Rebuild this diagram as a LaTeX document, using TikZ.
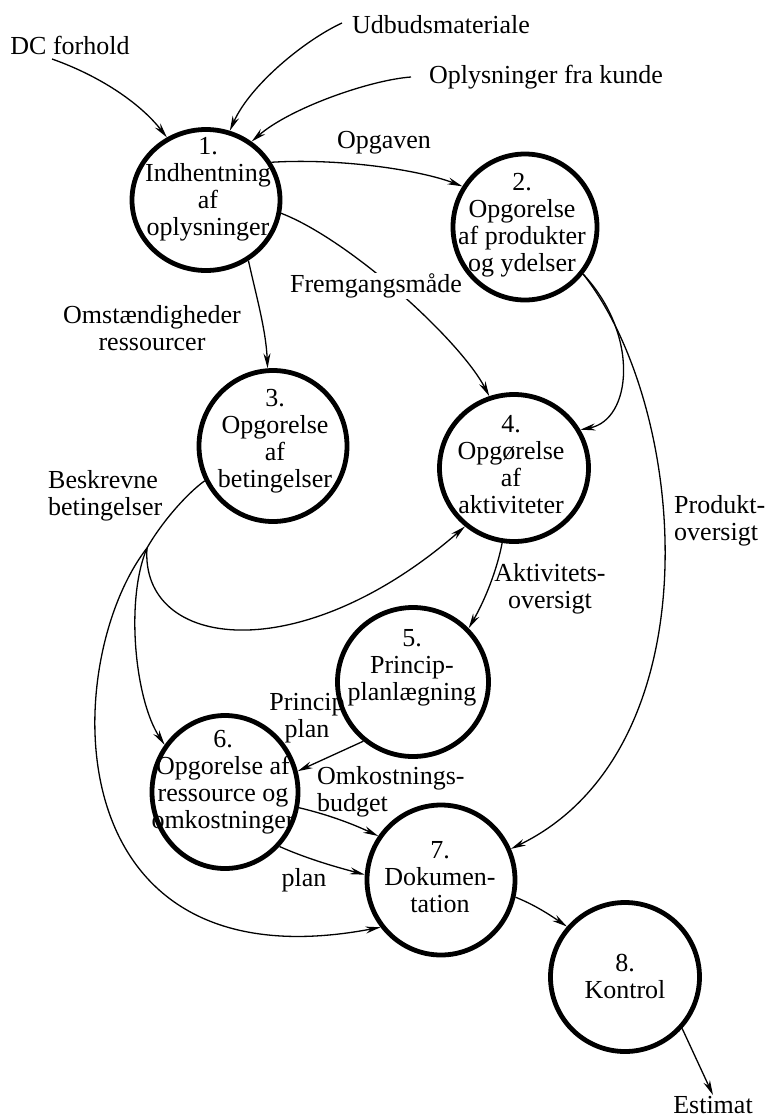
\documentclass[tikz,border=0pt]{standalone}
\usepackage{fontspec}
\setmainfont{Liberation Serif}
\usetikzlibrary{arrows.meta,shapes.geometric}
\begin{document}
\begin{tikzpicture}[x=1pt,y=-1pt,
  proc/.style={ellipse,draw,line width=4.8pt,inner sep=0pt},
  txt/.style={font=\fontsize{26}{27}\selectfont,align=center,inner sep=1pt},
  flow/.style={line width=1.3pt,-{Stealth[length=15pt,width=7pt]}},
  plainflow/.style={line width=1.3pt}]
\useasboundingbox (0,0) rectangle (769,1117);
% process ellipses
\node[proc,minimum width=148pt,minimum height=141pt] (n1) at (206,200) {};
\node[proc,minimum width=144pt,minimum height=146pt] (n2) at (525,227) {};
\node[proc,minimum width=148pt,minimum height=151pt] (n3) at (273,446) {};
\node[proc,minimum width=149pt,minimum height=147pt] (n4) at (514,468) {};
\node[proc,minimum width=151pt,minimum height=149pt] (n5) at (413,682) {};
\node[proc,minimum width=146pt,minimum height=153pt] (n6) at (225,792) {};
\node[proc,minimum width=148pt,minimum height=150pt] (n7) at (441,880) {};
\node[proc,minimum width=149pt,minimum height=149pt] (n8) at (625,977) {};
% process texts
\node[txt] (t1) at (208,189) {1.\\Indhentning\\af\\oplysninger};
\node[txt] (t2) at (522,225) {2.\\Opgorelse\\af produkter\\og ydelser};
\node[txt] (t3) at (275,441) {3.\\Opgorelse\\af\\betingelser};
\node[txt] (t4) at (511,465) {4.\\Opgørelse\\af\\aktiviteter};
\node[txt] (t5) at (412,668) {5.\\Princip-\\planlægning};
\node[txt] (t6) at (223,782) {6.\\Opgorelse af\\ressource og\\omkostninger};
\node[txt] (t7) at (440,877) {7.\\Dokumen-\\tation};
\node[txt] (t8) at (625,976) {8.\\Kontrol};
% external texts
\node[txt] (dc) at (70,45) {DC forhold};
\node[txt] (ud) at (441,25) {Udbudsmateriale};
\node[txt] (ok) at (546,77) {Oplysninger fra kunde};
\node[txt] (est) at (713,1105) {Estimat};
% free ends
\coordinate (dcs) at (52,59);
\coordinate (uds) at (342,23);
\coordinate (oks) at (411,77);
\coordinate (bb) at (147,548);
% flows
\draw[flow] (dcs) .. controls (100,76) and (140,103) .. (n1.122);
\draw[flow] (uds) .. controls (305,40) and (250,85) .. (n1.71);
\draw[flow] (oks) .. controls (370,80) and (290,108) .. (n1.52);
\draw[flow] (n1.30) .. controls (340,158) and (420,170) .. (n2.147);
\draw[flow] (n1.305) .. controls (256,295) and (266,330) .. (n3.94);
\draw[flow] (n1.350) .. controls (350,240) and (460,340) .. (n4.109);
\draw[flow] (n2.321) .. controls (640,335) and (632,420) .. (n4.30);
\draw[flow] (n2.321) .. controls (690,410) and (715,750) .. (n7.24);
\draw[plainflow] (n3.207) .. controls (185,495) and (160,525) .. (bb);
\draw[flow] (bb) .. controls (140,650) and (300,670) .. (n4.230);
\draw[flow] (bb) .. controls (125,600) and (135,700) .. (n6.142);
\draw[flow] (bb) .. controls (60,660) and (50,990) .. (n7.218);
\draw[flow] (n4.261) .. controls (497,570) and (485,600) .. (n5.44);
\draw[flow] (n5.230) -- (n6.16);
\draw[flow] (n6.348) .. controls (330,815) and (355,825) .. (n7.145);
\draw[flow] (n6.315) .. controls (310,860) and (340,868) .. (n7.176);
\draw[flow] (n7.347) .. controls (535,905) and (550,915) .. (n8.139);
\draw[flow] (n8.318) -- (est.north);
% flow labels
\node[txt] (lopg) at (384,143) {Opgaven};
\node[txt] (lom) at (152,328) {Omstændigheder\\ressourcer};
\node[txt,fill=white] (lfr) at (376,286) {Fremgangsmåde};
\node[txt,align=left,anchor=west] (lbe) at (47,496) {Beskrevne\\betingelser};
\node[txt,align=left,anchor=west] (lpr) at (673,521) {Produkt-\\oversigt};
\node[txt] (lak) at (550,589) {Aktivitets-\\oversigt};
\node[txt] (lpp) at (307,718) {Princip\\plan};
\node[txt,align=left,anchor=west] (lob) at (316,792) {Omkostnings-\\budget};
\node[txt] (lpl) at (304,880) {plan};
\end{tikzpicture}
\end{document}
